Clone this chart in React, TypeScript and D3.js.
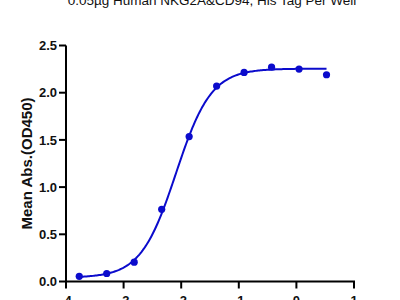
import React from "react";
import * as d3 from "d3";

const title = "0.05µg Human NKG2A&CD94, His Tag Per Well";
const yLabel = "Mean Abs.(OD450)";
const logConc = [-3.77, -3.293, -2.816, -2.339, -1.862, -1.385, -0.908, -0.431, 0.046, 0.523];
const absValues = [0.055, 0.085, 0.205, 0.765, 1.535, 2.07, 2.215, 2.27, 2.25, 2.19];
const xTicks = [-4, -3, -2, -1, 0, 1];
const yTicks = [0, 0.5, 1.0, 1.5, 2.0, 2.5];
// 4PL fit parameters
const fitBottom = 0.04;
const fitTop = 2.255;
const fitLogEC50 = -2.09;
const fitHill = 1.42;

const W = 400;
const H = 300;
const color = "#0b0bcc";

export default function App() {
  const x = d3.scaleLinear().domain([-4, 1]).range([66, 354]);
  const y = d3.scaleLinear().domain([0, 2.5]).range([281.5, 45.5]);
  const fit = (lx: number) =>
    fitBottom + (fitTop - fitBottom) / (1 + Math.pow(10, (fitLogEC50 - lx) * fitHill));
  const xs = d3.range(200).map((i) => logConc[0] + (i / 199) * (logConc[logConc.length - 1] - logConc[0]));
  const line = d3
    .line<number>()
    .x((d) => x(d))
    .y((d) => y(fit(d)))
    .curve(d3.curveLinear);
  const axisY = y(0);
  return (
    <svg
      width={W}
      height={H}
      style={{ position: "absolute", left: 0, top: 0, background: "#fff" }}
      fontFamily="'Liberation Sans', Arial, sans-serif"
    >
      <text x={212} y={5} textAnchor="middle" fontSize={13.5} fill="#111">
        {title}
      </text>
      {/* y axis */}
      <line x1={x(-4)} x2={x(-4)} y1={y(2.5)} y2={axisY + 1} stroke="#000" strokeWidth={2} />
      {yTicks.map((t) => (
        <g key={t}>
          <line x1={x(-4) - 7} x2={x(-4)} y1={y(t)} y2={y(t)} stroke="#000" strokeWidth={2} />
          <text
            x={x(-4) - 9}
            y={y(t)}
            dy="0.36em"
            textAnchor="end"
            fontSize={13}
            fontWeight="bold"
            fill="#111"
          >
            {t.toFixed(1)}
          </text>
        </g>
      ))}
      {/* x axis */}
      <line x1={x(-4) - 1} x2={x(1) + 1} y1={axisY} y2={axisY} stroke="#000" strokeWidth={2} />
      {xTicks.map((t) => (
        <g key={t}>
          <line x1={x(t)} x2={x(t)} y1={axisY} y2={axisY + 7} stroke="#000" strokeWidth={2} />
          <text
            x={x(t)}
            y={axisY + 23}
            textAnchor="middle"
            fontSize={13}
            fontWeight="bold"
            fill="#111"
          >
            {t}
          </text>
        </g>
      ))}
      <text
        transform={`translate(27,${(y(2.5) + y(0)) / 2}) rotate(-90)`}
        textAnchor="middle"
        dy="0.36em"
        fontSize={15}
        fontWeight="bold"
        fill="#111"
      >
        {yLabel}
      </text>
      <path d={line(xs) || ""} fill="none" stroke={color} strokeWidth={2} />
      {logConc.map((c, i) => (
        <circle key={i} cx={x(c)} cy={y(absValues[i])} r={3.6} fill={color} />
      ))}
    </svg>
  );
}
